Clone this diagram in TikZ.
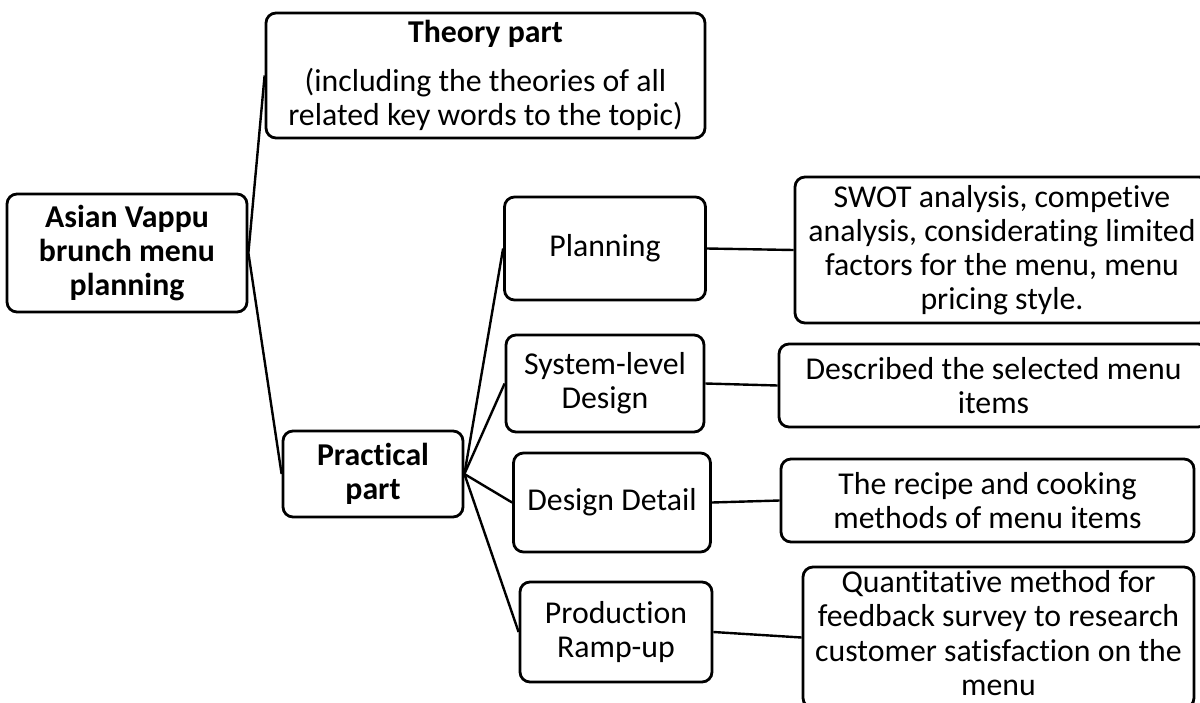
\documentclass[tikz,border=0pt]{standalone}
\usepackage{fontspec}
\setmainfont[Ligatures=NoCommon]{Carlito}
\begin{document}
\begin{tikzpicture}[x=1pt,y=-1pt,
  txt/.style={align=center, inner sep=0pt, font=\fontsize{31.8}{34.2}\selectfont},
  box/.style={txt, draw, line width=2.8pt, rounded corners=10pt},
  link/.style={line width=2.4pt}]
\useasboundingbox (0,0) rectangle (1200,702);
\clip (0,0) rectangle (1200,702);
\node[box, minimum width=240pt, minimum height=118pt] (root) at (127,253)
  {\bfseries Asian Vappu\\ \bfseries brunch menu\\ \bfseries planning};
\node[box, minimum width=439pt, minimum height=125pt] (theory) at (485.5,75.5)
  {\bfseries Theory part\\[14pt] (including the theories of all\\ related key words to the topic)};
\node[box, minimum width=180pt, minimum height=86pt] (practical) at (373,474)
  {\bfseries Practical\\ \bfseries part};
\node[box, minimum width=201pt, minimum height=103pt] (planning) at (605,248.5) {Planning};
\node[box, minimum width=198pt, minimum height=97pt] (system) at (605,383.5) {System-level\\ Design};
\node[box, minimum width=197pt, minimum height=99pt] (detail) at (612,502.5) {Design Detail};
\node[box, minimum width=192pt, minimum height=100pt] (production) at (616,632) {Production\\ Ramp-up};
\node[box, minimum width=414pt, minimum height=146pt] (swot) at (1002,250)
  {SWOT analysis, competive\\ analysis, considerating limited\\ factors for the menu, menu\\ pricing style.};
\node[box, minimum width=429pt, minimum height=83pt] (described) at (993.5,385.5)
  {Described the selected menu\\ items};
\node[box, minimum width=413pt, minimum height=83pt] (recipe) at (987.5,500.5)
  {The recipe and cooking\\ methods of menu items};
\node[box, minimum width=391pt, minimum height=141pt] (quant) at (998.5,637.5) {};
\node[txt] (quanttext) at (998.5,633)
  {Quantitative method for\\ feedback survey to research\\ customer satisfaction on the\\ menu};
\draw[link] (root.east) -- (theory.west);
\draw[link] (root.east) -- (practical.west);
\draw[link] (practical.east) -- (planning.west);
\draw[link] (practical.east) -- (system.west);
\draw[link] (practical.east) -- (detail.west);
\draw[link] (practical.east) -- (production.west);
\draw[link] (planning.east) -- (swot.west);
\draw[link] (system.east) -- (described.west);
\draw[link] (detail.east) -- (recipe.west);
\draw[link] (production.east) -- (quant.west);
\end{tikzpicture}
\end{document}
